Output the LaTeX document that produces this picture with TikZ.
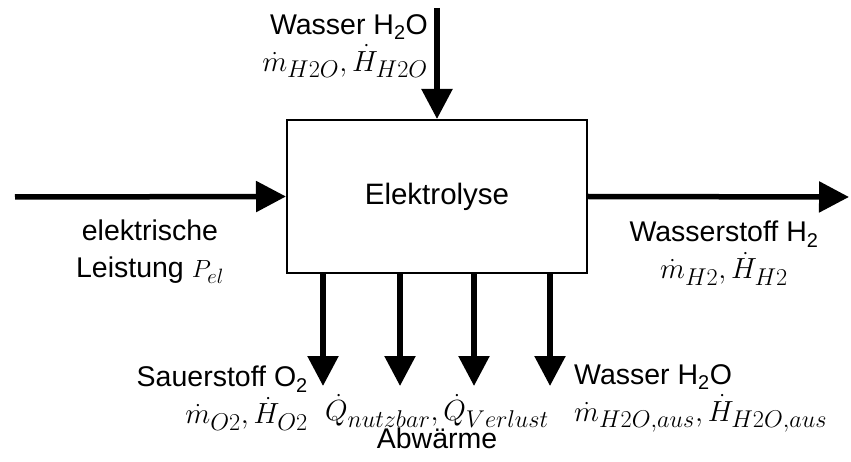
\documentclass[tikz,border=0pt]{standalone}
\usepackage{fontspec}
\setmainfont{Liberation Sans}
\usetikzlibrary{arrows.meta}
\tikzset{flow/.style={line width=5.5pt, -{Triangle[length=30pt,width=30pt]}}}
\newcommand{\mth}[1]{\scalebox{1.17}{\fontsize{24.88}{30}\selectfont$#1$}}

\begin{document}
\begin{tikzpicture}[x=1pt,y=-1pt,font=\fontsize{28.5}{37}\selectfont]
\useasboundingbox (0,0) rectangle (851,462);
\node[draw, line width=2pt, minimum width=300pt, minimum height=153pt, inner sep=0pt, font=\fontsize{29.5}{37}\selectfont] (elyse) at (437,196.5) {Elektrolyse};
\coordinate (wein) at (437,8);
\coordinate (pein) at (15,197);
\coordinate (hout) at (849,197);
\coordinate (oout) at (323,386);
\coordinate (qnutz) at (400,386);
\coordinate (qverl) at (474,386);
\coordinate (waus) at (550,386);
\draw[flow] (wein) -- (elyse.north);
\draw[flow] (pein) -- (elyse.west);
\draw[flow] (elyse.east) -- (hout);
\draw[flow] (oout |- elyse.south) -- (oout);
\draw[flow] (qnutz |- elyse.south) -- (qnutz);
\draw[flow] (qverl |- elyse.south) -- (qverl);
\draw[flow] (waus |- elyse.south) -- (waus);
\node[anchor=north east, align=right, inner sep=0pt] (wtxt) at (428,14) {Wasser H\textsubscript{2}O\\\mth{\dot{m}_{H2O}, \dot{H}_{H2O}}};
\node[anchor=north, align=center, inner sep=0pt] (ptxt) at (150,220) {elektrische\\Leistung $P_{el}$};
\node[anchor=north, align=center, inner sep=0pt] (htxt) at (724,221) {Wasserstoff H\textsubscript{2}\\\mth{\dot{m}_{H2}, \dot{H}_{H2}}};
\node[anchor=north east, align=right, inner sep=0pt] (otxt) at (308,366) {Sauerstoff O\textsubscript{2}\\\mth{\dot{m}_{O2}, \dot{H}_{O2}}};
\node[anchor=north, align=center, inner sep=0pt] (qtxt) at (437,394) {\mth{\dot{Q}_{nutzbar}, \dot{Q}_{Verlust}}\\[-9pt]Abwärme};
\node[anchor=north west, align=left, inner sep=0pt] (atxt) at (574,364) {Wasser H\textsubscript{2}O\\\mth{\dot{m}_{H2O,aus}, \dot{H}_{H2O,aus}}};
\end{tikzpicture}
\end{document}
